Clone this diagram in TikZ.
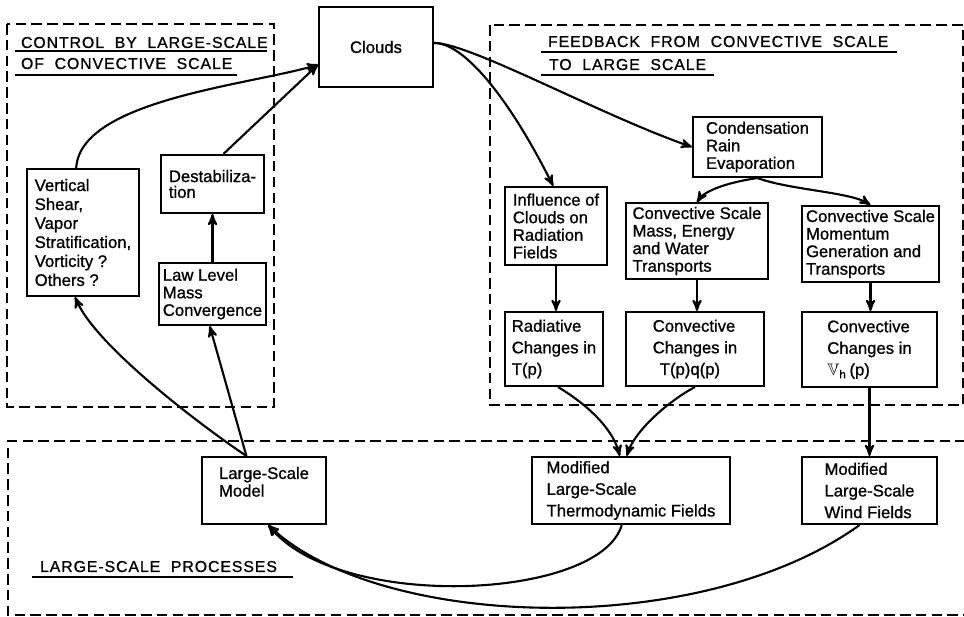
\documentclass[tikz,border=0pt]{standalone}
\usepackage{amssymb}
\usepackage{fontspec}
\usetikzlibrary{arrows}
\newfontfamily\boxfont[FakeBold=1]{Liberation Sans}
\newfontfamily\headfont[LetterSpace=6,WordSpace=2,FakeBold=1]{Liberation Sans}

\begin{document}
\begin{tikzpicture}[x=0.02cm,y=-0.02cm,>=stealth',line width=1.2pt]
  \tikzstyle{box}=[draw,rectangle,align=left,inner sep=2pt,
                   font=\boxfont\fontsize{9.5}{10}\selectfont]
  \tikzstyle{loose}=[font=\boxfont\fontsize{9.5}{12.3}\selectfont]
  \tikzstyle{zone}=[draw,dash pattern=on 6pt off 3pt]
  \tikzstyle{heading}=[anchor=base west,inner sep=0pt,
                       font=\headfont\fontsize{9}{10}\selectfont]
  \tikzstyle{uline}=[line width=0.8pt]

  \useasboundingbox (0,0) rectangle (964,617);

  % dashed zones
  \draw[zone] (7,24) rectangle (274,407);
  \draw[zone] (490,25) rectangle (963,405);
  \draw[zone] (966,441) -- (8,441) -- (8,615) -- (966,615);

  \node[heading] (ctrlA) at (20,48) {CONTROL BY LARGE-SCALE};
  \node[heading] (ctrlB) at (20,69) {OF CONVECTIVE SCALE};
  \node[heading] (feedA) at (547,47) {FEEDBACK FROM CONVECTIVE SCALE};
  \node[heading] (feedB) at (548,70) {TO LARGE SCALE};
  \node[heading] (procs) at (39,572) {LARGE-SCALE PROCESSES};
  \draw[uline] (15,51) -- (267,51);
  \draw[uline] (15,75) -- (237,75);
  \draw[uline] (541,52) -- (897,52);
  \draw[uline] (541,75) -- (714,75);
  \draw[uline] (32,577) -- (293,577);

  % boxes
  \node[box,minimum width=2.28cm,minimum height=1.6cm] (clouds) at (376,47) {Clouds};
  \node[box,minimum width=2.24cm,minimum height=2.54cm,
        font=\boxfont\fontsize{9.5}{10.8}\selectfont] (shear) at (83,232.5)
        {Vertical\\Shear,\\Vapor\\Stratification,\\Vorticity ?\\Others ?};
  \node[box,minimum width=2.06cm,minimum height=1.16cm,
        font=\boxfont\fontsize{9.5}{9}\selectfont] (destab) at (212.5,184) {Destabiliza-\\tion};
  \node[box,minimum width=2.06cm,minimum height=1.24cm] (law) at (212.5,294)
        {Law Level\\Mass\\Convergence};
  \node[box,minimum width=2.58cm,minimum height=1.2cm] (cond) at (757.5,147)
        {Condensation\\Rain\\Evaporation};
  \node[box,minimum width=2.04cm,minimum height=1.56cm] (infl) at (556,226)
        {Influence of\\Clouds on\\Radiation\\Fields};
  \node[box,minimum width=2.84cm,minimum height=1.44cm] (mass) at (697,241)
        {Convective Scale\\Mass, Energy\\and Water\\Transports};
  \node[box,minimum width=2.74cm,minimum height=1.52cm] (mom) at (870.5,244)
        {Convective Scale\\Momentum\\Generation and\\Transports};
  \node[box,loose,minimum width=1.96cm,minimum height=1.48cm] (rad) at (554,349)
        {Radiative\\Changes in\\T(p)};
  \node[box,loose,minimum width=2.76cm,minimum height=1.48cm] (tpq) at (695,349)
        {Convective\\Changes in\\\hspace{4pt}T(p)q(p)};
  \node[box,loose,minimum width=2.7cm,minimum height=1.5cm] (vh) at (869.5,349.5)
        {Convective\\Changes in\\$\mathbb{V}$\textsubscript{h}\,(p)};
  \node[box,minimum width=2.48cm,minimum height=1.34cm] (model) at (264,490.5)
        {Large-Scale\\Model\\\mbox{}};
  \node[box,loose,minimum width=3.96cm,minimum height=1.34cm] (thermo) at (631,490.5)
        {Modified\\Large-Scale\\Thermodynamic Fields};
  \node[box,loose,minimum width=2.7cm,minimum height=1.34cm] (wind) at (869.5,490.5)
        {Modified\\Large-Scale\\Wind Fields};

  % control by large scale
  \draw[->] (shear.96) .. controls (80,100) and (250,85) .. (clouds.197);
  \draw[->] (destab.70) -- (clouds.197);
  \draw[->] (law) -- (destab);
  \draw[->] (model.117) .. controls (200,425) and (95,345) .. (shear.263);
  \draw[->] (model.117) -- (law.265);

  % feedback
  \draw[->] (clouds.4) .. controls (465,43) and (510,100) .. (infl.94);
  \draw[->] (clouds.4) .. controls (470,43) and (600,115) .. (cond.west);
  \draw[->] (cond.south) .. controls (730,182) and (705,190) .. (mass.north);
  \draw[->] (cond.south) .. controls (790,190) and (850,192) .. (mom.north);
  \draw[->] (infl.south) -- (infl.south |- rad.north);
  \draw[->] (mass.south) -- (mass.south |- tpq.north);
  \draw[->] (mom.south) -- (mom.south |- vh.north);

  % large-scale processes
  \draw[->] (rad.276) .. controls (580,400) and (612,425) .. (thermo.108);
  \draw[->] (tpq.south) .. controls (670,400) and (635,430) .. (thermo.97);
  \draw[->] (vh) -- (wind);
  \draw[->] (thermo.255) .. controls (600,600) and (340,612) .. (model.277);
  \draw[->] (wind.254) .. controls (700,640) and (380,630) .. (model.277);
\end{tikzpicture}
\end{document}
